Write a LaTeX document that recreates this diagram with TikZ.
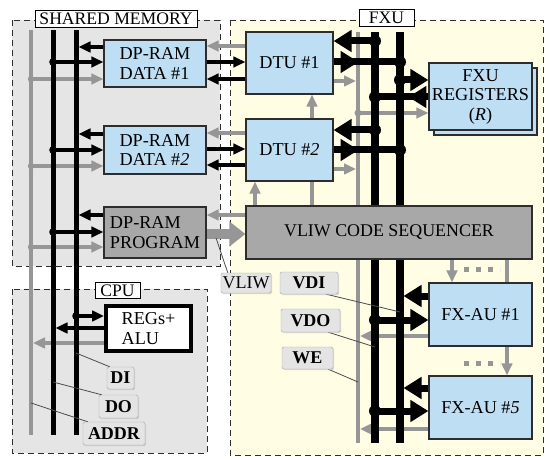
\documentclass[tikz,border=0pt]{standalone}
\usepackage{fontspec}
\setmainfont{Liberation Serif}
\usetikzlibrary{arrows.meta,decorations.markings,shadows,calc}
\definecolor{memfill}{RGB}{229,229,229}
\definecolor{fxufill}{RGB}{255,253,228}
\definecolor{boxblue}{RGB}{190,222,244}
\definecolor{darkbox}{RGB}{168,168,168}
\definecolor{garr}{RGB}{150,150,150}
\definecolor{lblfill}{RGB}{228,228,228}
\definecolor{edgec}{RGB}{45,45,45}
\pgfdeclarelayer{bg}
\pgfdeclarelayer{lines}
\pgfsetlayers{bg,lines,main}
\begin{document}
\begin{tikzpicture}[x=1pt,y=-1pt,
  txt/.style={font=\fontsize{18.2pt}{19.5pt}\selectfont},
  blk/.style={txt, draw=edgec, line width=1.2pt, fill=boxblue, inner sep=0pt, align=center},
  gblk/.style={blk, fill=darkbox},
  region/.style={draw=edgec, line width=0.9pt, dash pattern=on 6pt off 4pt},
  rlabel/.style={draw=black, fill=white, line width=0.9pt, inner sep=1pt, font=\fontsize{17.6pt}{17pt}\selectfont, minimum height=17pt},
  lbl/.style={font=\fontsize{18pt}{19pt}\selectfont\bfseries, draw=gray!70, fill=lblfill, rounded corners=1.5pt, inner sep=0pt, drop shadow={shadow xshift=1.2pt, shadow yshift=-1.2pt, fill=gray!55}},
  sblack/.style={draw=black, line width=3.5pt, -{Triangle[length=12pt,width=10.5pt]}},
  sgray/.style={draw=garr, line width=3.5pt, -{Triangle[length=12pt,width=10.5pt]}},
  bblack/.style={draw=black, line width=7pt, -{Triangle[length=18pt,width=21pt]}},
  bline/.style={draw=black, line width=7pt},
  bgray/.style={draw=garr, line width=10pt, -{Triangle[length=16pt,width=24pt]}},
  midhead/.style={postaction={decorate,decoration={markings,mark=at position #1 with {\arrow{Triangle[length=18pt,width=21pt]}}}}},
  bus/.style={draw=black, line width=5pt},
  gbus/.style={draw=garr, line width=4pt},
  fbus/.style={draw=black, line width=7.5pt},
  leader/.style={draw=gray!60!black, line width=0.8pt}
]
\useasboundingbox (0,0) rectangle (550,460);
% ---------- nodes ----------
\node[blk, align=left, minimum width=102pt, minimum height=47pt] (D1) at (155,63.5) {DP-RAM\\DATA \#1};
\node[blk, align=left, minimum width=102pt, minimum height=48pt] (D2) at (155,150) {DP-RAM\\DATA \#\textit{2}};
\node[gblk, align=left, minimum width=102pt, minimum height=51pt] (PR) at (155,232.5) {DP-RAM\\PROGRAM};
\node[txt, draw=black, line width=4pt, fill=white, align=left, inner sep=0pt, minimum width=85pt, minimum height=45pt] (RA) at (148.5,328.5) {REGs+\\ALU};
\node[blk, minimum width=87pt, minimum height=62pt] (T1) at (289.5,63) {DTU \#1};
\node[blk, minimum width=87pt, minimum height=62pt] (T2) at (289.5,150) {DTU \#\textit{2}};
\node[blk, minimum width=103pt, minimum height=67pt, copy shadow={shadow xshift=5pt, shadow yshift=-5pt, fill=boxblue, draw=edgec, line width=1.2pt}] (RG) at (480.5,96.5) {FXU\\REGISTERS\\(\textit{R})};
\node[gblk, minimum width=286pt, minimum height=53pt, font=\fontsize{17.9pt}{19pt}\selectfont] (SQ) at (389,232.5) {VLIW CODE SEQUENCER};
\node[blk, minimum width=103pt, minimum height=63pt] (FA1) at (480.5,314.5) {FX-AU \#1};
\node[blk, minimum width=103pt, minimum height=63pt] (FA5) at (480.5,407.5) {FX-AU \#\textit{5}};
% labels
\node[lbl, font=\fontsize{18pt}{19pt}\selectfont, minimum width=50pt, minimum height=20pt] (LV) at (246,283) {VLIW};
\node[lbl, minimum width=58pt, minimum height=22pt] (LVDI) at (309,283) {VDI};
\node[lbl, minimum width=59pt, minimum height=23pt] (LVDO) at (310.5,320.5) {VDO};
\node[lbl, minimum width=51pt, minimum height=22pt] (LWE) at (307.5,358) {WE};
\node[lbl, minimum width=27pt, minimum height=22pt] (LDI) at (120.5,378) {DI};
\node[lbl, minimum width=39pt, minimum height=23pt] (LDO) at (118.5,406.5) {DO};
\node[lbl, minimum width=62pt, minimum height=23pt] (LADDR) at (114,433.5) {ADDR};
% region labels
\node[rlabel, minimum width=162pt] (LSM) at (116,18.5) {SHARED MEMORY};
\node[rlabel, minimum width=55pt] (LFXU) at (386.5,18) {FXU};
\node[rlabel, minimum width=45pt, minimum height=16pt] (LCPU) at (117.5,290.5) {CPU};
% bus coordinates
\coordinate (At) at (31,30);  \coordinate (Ab) at (31,435);
\coordinate (DOt) at (53,30); \coordinate (DOb) at (53,435);
\coordinate (DIt) at (76,30); \coordinate (DIb) at (76,435);
\coordinate (Gt) at (358,32); \coordinate (Gb) at (358,443);
\coordinate (X1t) at (375,32); \coordinate (X1b) at (375,443);
\coordinate (X2t) at (400,32); \coordinate (X2b) at (400,443);
\coordinate (vl) at (216,238);
% ---------- backgrounds ----------
\begin{pgfonlayer}{bg}
\fill[white] (0,0) rectangle (550,460);
\fill[memfill] (12,20) rectangle (220,266);
\draw[region] (12,20) rectangle (220,266);
\fill[memfill] (12,289) rectangle (207,453);
\draw[region] (12,289) rectangle (207,453);
\fill[fxufill] (230,20) rectangle (543,455);
\draw[region] (230,20) rectangle (543,455);
\end{pgfonlayer}
% ---------- connectors ----------
\begin{pgfonlayer}{lines}
% gray arrows
\draw[sgray] (At |- 0,79) -- (D1.west |- 0,79);
\draw[sgray] (At |- 0,166) -- (D2.west |- 0,166);
\draw[sgray] (At |- 0,247) -- (PR.west |- 0,247);
\draw[sgray, shorten >=2pt] (RA.west |- 0,343) -- (At |- 0,343);
\draw[sgray] (T1.west |- 0,46) -- (D1.east |- 0,46);
\draw[sgray] (T2.west |- 0,133) -- (D2.east |- 0,133);
\draw[sgray] (SQ.west |- 0,215) -- (PR.east |- 0,215);
\draw[sgray, shorten >=2pt] (T1.east |- 0,81) -- (Gt |- 0,81);
\draw[sgray, shorten >=2pt] (T2.east |- 0,169) -- (Gt |- 0,169);
\draw[sgray] (Gt |- 0,113) -- (RG.west |- 0,113);
\draw[sgray, shorten >=2pt] (FA1.west |- 0,336) -- (Gt |- 0,336);
\draw[sgray, shorten >=2pt] (FA5.west |- 0,429) -- (Gt |- 0,429);
\draw[sgray] (SQ.north -| 312,0) -- (T1.south -| 312,0);
\draw[sgray] (SQ.north -| 255,0) -- (T2.south -| 255,0);
\draw[sgray] (SQ.south -| 452,0) -- (FA1.north -| 452,0);
\draw[sgray] (SQ.south -| 507,0) -- (FA5.north -| 507,0);
\draw[bgray] (PR.east |- 0,234) -- (SQ.west |- 0,234);
\draw[garr, line width=5pt, dash pattern=on 5pt off 7pt] (464,269) -- (500,269);
\draw[garr, line width=5pt, dash pattern=on 5pt off 7pt] (464,363) -- (500,363);
% buses
\draw[gbus] (At) -- (Ab);
\draw[gbus] (Gt) -- (Gb);
\draw[bus] (DOt) -- (DOb);
\draw[bus] (DIt) -- (DIb);
\draw[fbus] (X1t) -- (X1b);
\draw[fbus] (X2t) -- (X2b);
% small black arrows
\draw[sblack, shorten >=2.5pt] (D1.west |- 0,47) -- (DIt |- 0,47);
\draw[sblack] (DOt |- 0,62) -- (D1.west |- 0,62);
\draw[sblack, shorten >=2.5pt] (D2.west |- 0,134) -- (DIt |- 0,134);
\draw[sblack] (DOt |- 0,150) -- (D2.west |- 0,150);
\draw[sblack, shorten >=2.5pt] (PR.west |- 0,215) -- (DIt |- 0,215);
\draw[sblack] (DOt |- 0,232) -- (PR.west |- 0,232);
\draw[sblack] (DIt |- 0,316) -- (RA.west |- 0,316);
\draw[sblack, shorten >=2.5pt] (RA.west |- 0,328) -- (DOt |- 0,328);
\draw[sblack] (D1.east |- 0,62) -- (T1.west |- 0,62);
\draw[sblack] (T1.west |- 0,79) -- (D1.east |- 0,79);
\draw[sblack] (D2.east |- 0,149) -- (T2.west |- 0,149);
\draw[sblack] (T2.west |- 0,165) -- (D2.east |- 0,165);
% big black arrows
\draw[bblack] (X1t |- 0,41) -- (T1.east |- 0,41);
\draw[bline, midhead=25pt] (T1.east |- 0,62) -- (X2t |- 0,62);
\draw[bblack] (X1t |- 0,130) -- (T2.east |- 0,130);
\draw[bline, midhead=25pt] (T2.east |- 0,150) -- (X2t |- 0,150);
\draw[bblack] (X2t |- 0,80) -- (RG.west |- 0,80);
\draw[bline, midhead=20pt] (RG.west |- 0,97) -- (X1t |- 0,97);
\draw[bblack, shorten >=3.5pt] (FA1.west |- 0,296) -- (X2t |- 0,296);
\draw[bblack] (X1t |- 0,320) -- (FA1.west |- 0,320);
\draw[bblack, shorten >=3.5pt] (FA5.west |- 0,388) -- (X2t |- 0,388);
\draw[bblack] (X1t |- 0,411) -- (FA5.west |- 0,411);
% dots
\foreach \p in {62,150,232} \fill (DOt |- 0,\p) circle[radius=3.8pt];
\fill (DIt |- 0,316) circle[radius=3.8pt];
\foreach \p in {79,166,247} \fill[garr] (At |- 0,\p) circle[radius=3.2pt];
\foreach \p in {41,97,130,320,411} \fill (X1t |- 0,\p) circle[radius=6pt];
\foreach \p in {62,80,150} \fill (X2t |- 0,\p) circle[radius=6pt];
\fill[garr] (Gt |- 0,113) circle[radius=3.5pt];
% leaders
\draw[leader] ($(LV.north west)+(7,0)$) -- (vl);
\draw[leader] ($(LVDI.south east)+(-12,0)$) -- (X2t |- 0,312);
\draw[leader] ($(LVDO.south east)+(-12,0)$) -- (X1t |- 0,347);
\draw[leader] ($(LWE.south east)+(-5,0)$) -- (Gt |- 0,382);
\draw[leader] ($(LDI.north west)+(3,0)$) -- (DIt |- 0,353);
\draw[leader] ($(LDO.north west)+(3,0)$) -- (DOt |- 0,382);
\draw[leader] ($(LADDR.north west)+(5,0)$) -- (At |- 0,403);
\end{pgfonlayer}
\end{tikzpicture}
\end{document}
